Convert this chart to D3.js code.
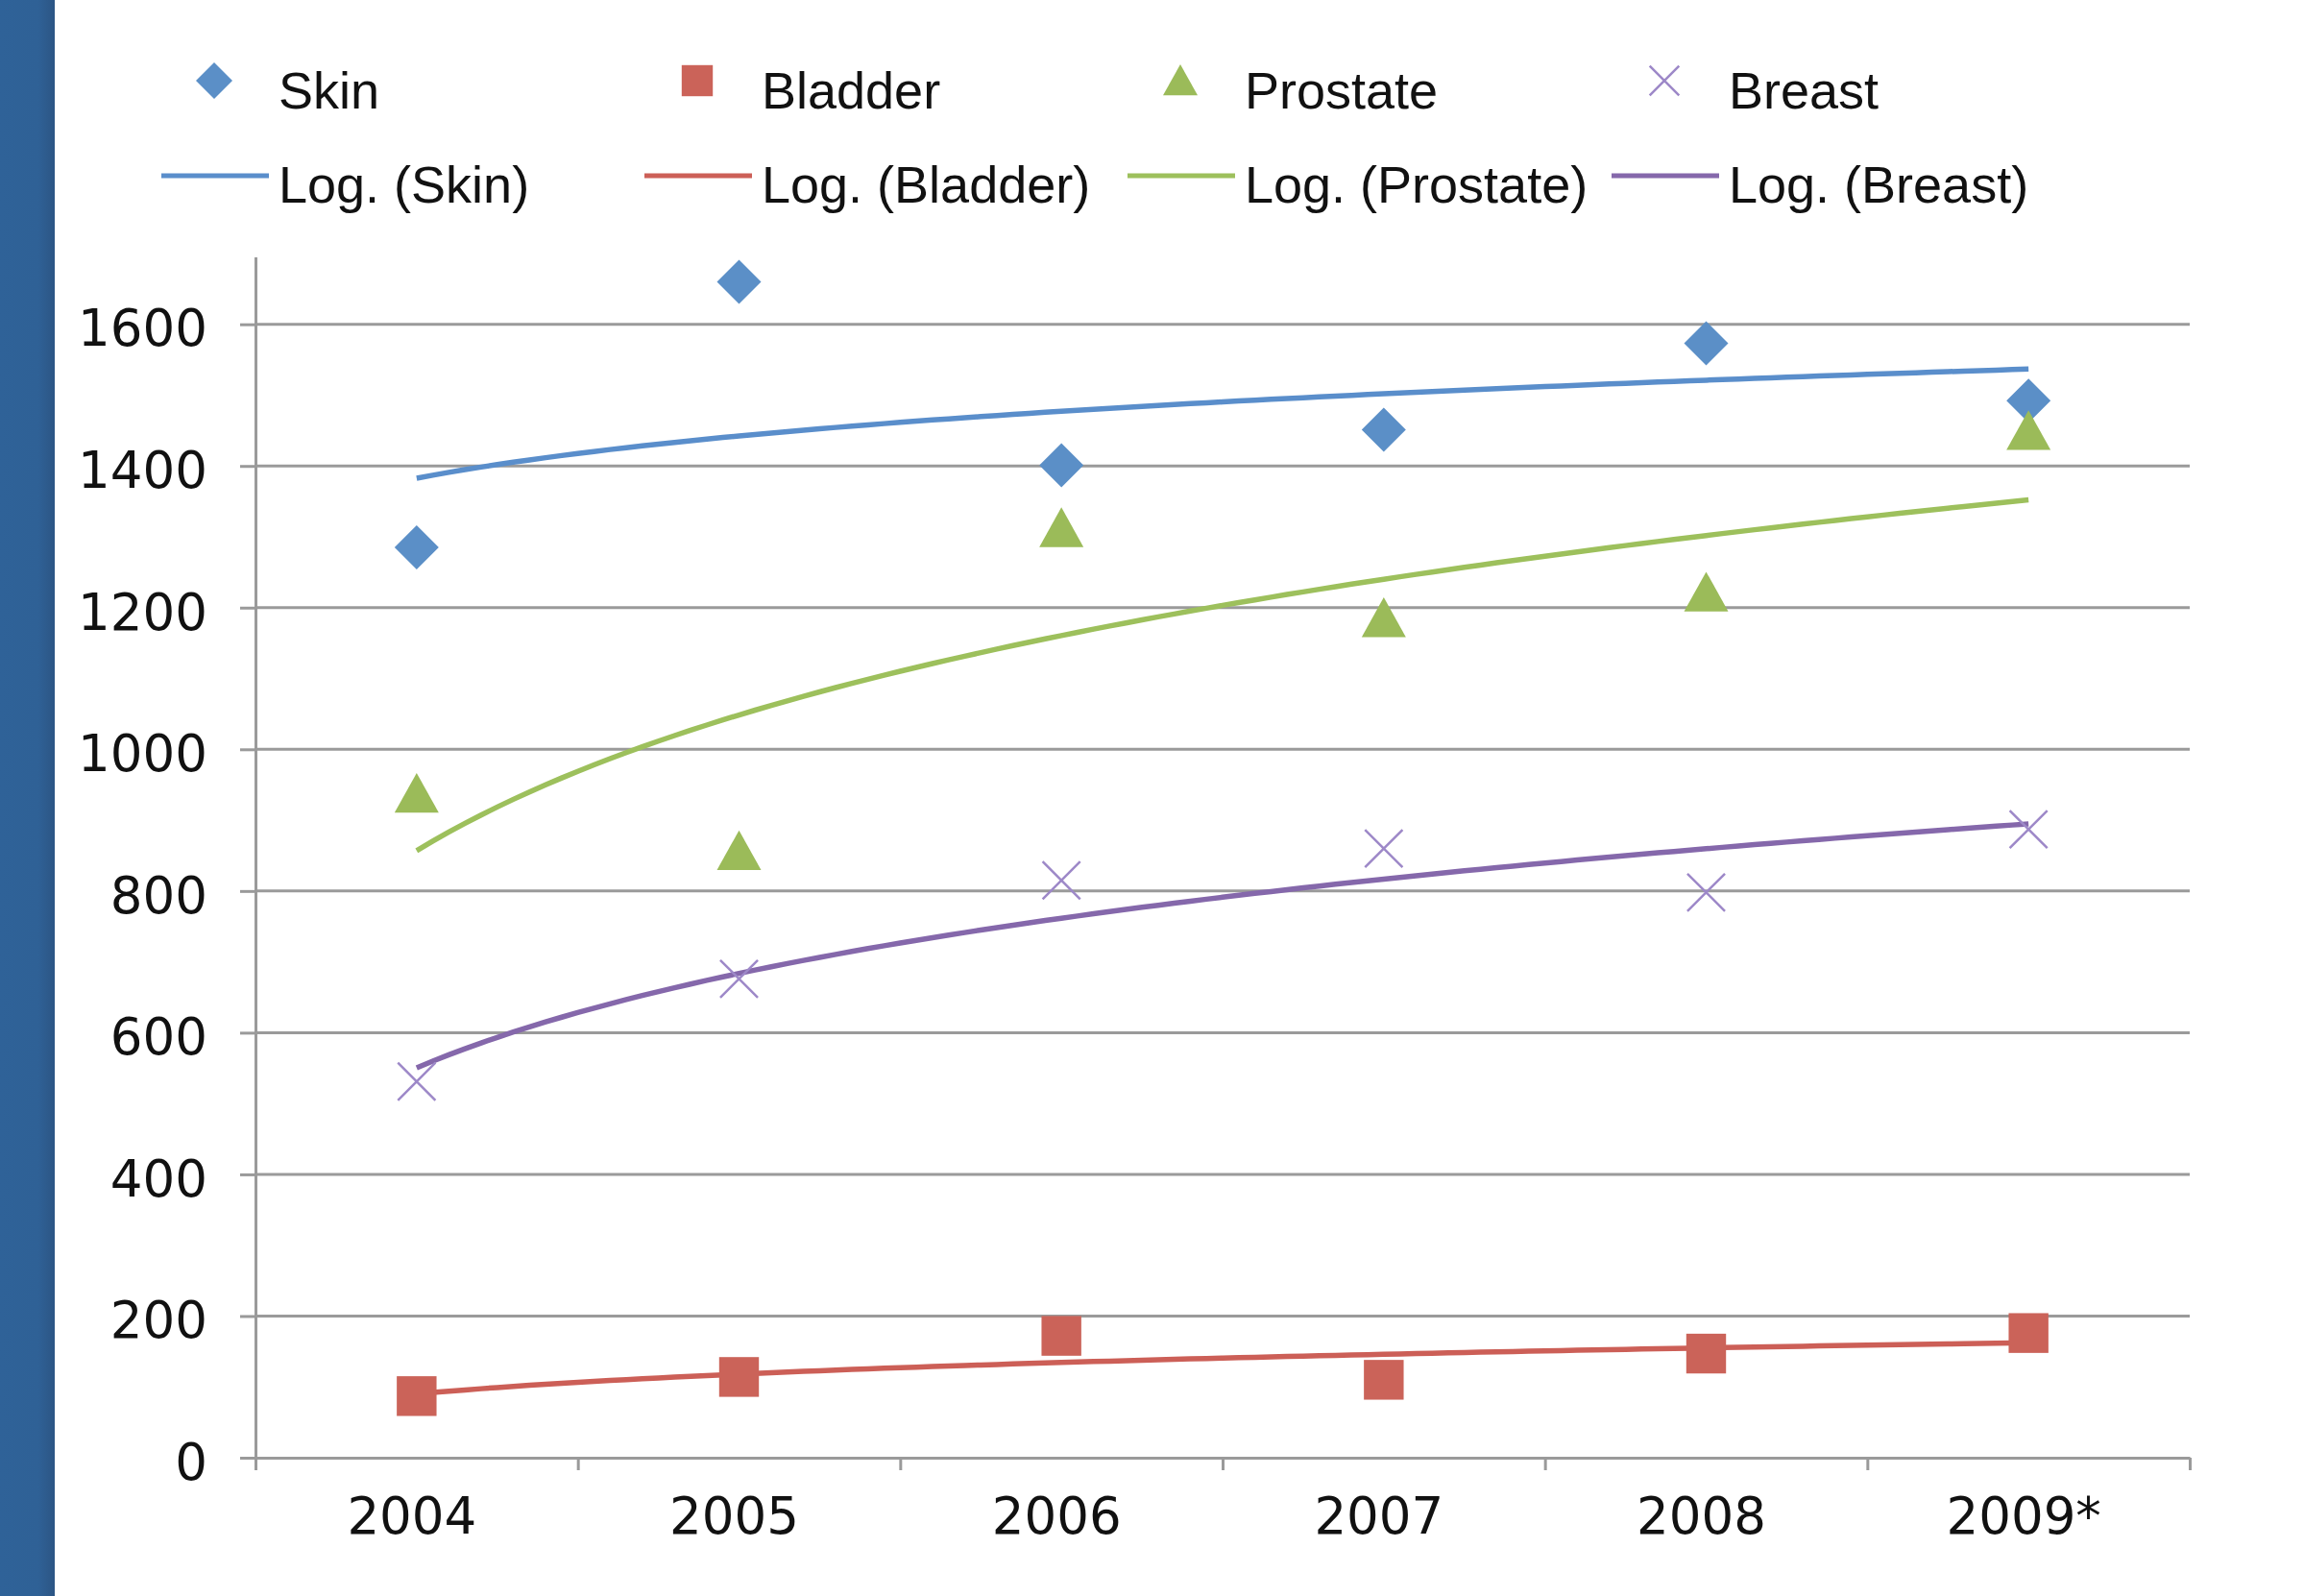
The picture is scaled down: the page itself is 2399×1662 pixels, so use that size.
<!DOCTYPE html>
<html><head><meta charset="utf-8">
<script src="https://cdn.jsdelivr.net/npm/d3@7"></script>
<style>html,body{margin:0;padding:0;background:#fff;}svg{display:block;}</style>
</head><body>
<svg id="c" width="2399" height="1662"></svg>
<script>
const categories = ["2004","2005","2006","2007","2008","2009*"];
const skin     = [1285, 1660, 1401, 1451, 1573, 1492];
const bladder  = [87, 114, 172, 110, 147, 176];
const prostate = [937, 856, 1312, 1185, 1221, 1449];
const breast   = [531, 676, 815, 860, 798, 887];
const yTicks   = [0, 200, 400, 600, 800, 1000, 1200, 1400, 1600];
const yMax = 1695;

const series = [
  {name:"Skin", values:skin, marker:"diamond", mcol:"#5b8fc7", lcol:"#5a8ecb"},
  {name:"Bladder", values:bladder, marker:"square", mcol:"#cb6359", lcol:"#cc5f57"},
  {name:"Prostate", values:prostate, marker:"triangle", mcol:"#9bbb59", lcol:"#9dc05c"},
  {name:"Breast", values:breast, marker:"x", mcol:"#9d88c8", lcol:"#8568ab"}
];

const svg = d3.select("#c");
const defs = svg.append("defs");
const g1 = defs.append("linearGradient").attr("id","band").attr("x1","0").attr("x2","1");
g1.append("stop").attr("offset","0").attr("stop-color","#2f6298");
g1.append("stop").attr("offset","0.7").attr("stop-color","#2f6196");
g1.append("stop").attr("offset","1").attr("stop-color","#2c5584");
svg.append("rect").attr("x",0).attr("y",0).attr("width",57).attr("height",1662).attr("fill","url(#band)");

const L = 266, R = 2280;
const y = d3.scaleLinear().domain([0, yMax]).range([1518, 1518 - yMax*0.7377]);
const xi = d3.scaleLinear().domain([0.5, 6.5]).range([L, R]);
const xb = d3.scaleBand().domain(categories).range([L, R]);

const gridCol = "#9a9a9a";
const textCol = "#111";
svg.append("g").selectAll("line").data(yTicks.filter(d=>d>0)).join("line")
  .attr("x1", L).attr("x2", R).attr("y1", d=>y(d)).attr("y2", d=>y(d))
  .attr("stroke", gridCol).attr("stroke-width", 3);

const ya = svg.append("g").attr("transform",`translate(${L},0)`)
  .call(d3.axisLeft(y).tickValues(yTicks).tickSizeInner(16).tickSizeOuter(0).tickPadding(34).tickFormat(d3.format("d")));
ya.select(".domain").attr("stroke", gridCol).attr("stroke-width", 3);
ya.selectAll(".tick line").attr("stroke", gridCol).attr("stroke-width", 3);
ya.selectAll(".tick text").attr("font-family","DejaVu Sans").attr("font-size",53).attr("fill",textCol).attr("dy","0.42em");

const xa = svg.append("g").attr("transform",`translate(0,${y(0)})`)
  .call(d3.axisBottom(xi).tickValues(d3.range(0.5, 6.6, 1)).tickSizeInner(13).tickSizeOuter(0).tickFormat(""));
xa.select(".domain").attr("stroke", gridCol).attr("stroke-width", 3);
xa.selectAll(".tick line").attr("stroke", gridCol).attr("stroke-width", 3);
const xl = svg.append("g").attr("transform",`translate(-5,${y(0)})`)
  .call(d3.axisBottom(xb).tickSize(0).tickPadding(41));
xl.select(".domain").remove();
xl.selectAll(".tick text").attr("font-family","DejaVu Sans").attr("font-size",53).attr("fill",textCol).attr("dy","0.71em");

function logFit(vals){
  const xs = vals.map((v,i)=>Math.log(i+1));
  const mx = d3.mean(xs), my = d3.mean(vals);
  let sxy=0, sxx=0;
  xs.forEach((x,i)=>{sxy+=(x-mx)*(vals[i]-my); sxx+=(x-mx)*(x-mx);});
  const a = sxy/sxx, b = my - a*mx;
  return t => a*Math.log(t)+b;
}
const line = d3.line().x(d=>xi(d[0])).y(d=>y(d[1]));
series.forEach(s=>{
  const f = logFit(s.values);
  const pts = d3.range(1, 6.0001, 0.05).map(t=>[t, f(t)]);
  svg.append("path").attr("d", line(pts)).attr("fill","none").attr("stroke", s.lcol).attr("stroke-width",5.5);
});

function drawMarker(g, type, cx, cy, size, col){
  const h = size/2;
  if(type==="diamond"){
    g.append("path").attr("d",`M${cx},${cy-h}L${cx+h},${cy}L${cx},${cy+h}L${cx-h},${cy}Z`).attr("fill",col);
  } else if(type==="square"){
    g.append("rect").attr("x",cx-h*0.9).attr("y",cy-h*0.9).attr("width",size*0.9).attr("height",size*0.9).attr("fill",col);
  } else if(type==="triangle"){
    g.append("path").attr("d",`M${cx},${cy-h*0.95}L${cx+h},${cy+h*0.85}L${cx-h},${cy+h*0.85}Z`).attr("fill",col);
  } else {
    const k = h*0.85;
    g.append("path").attr("d",`M${cx-k},${cy-k}L${cx+k},${cy+k}M${cx+k},${cy-k}L${cx-k},${cy+k}`)
      .attr("stroke",col).attr("stroke-width",2.5).attr("fill","none");
  }
}
const mg = svg.append("g");
series.forEach(s=>{
  s.values.forEach((v,i)=>drawMarker(mg, s.marker, xb(categories[i])+xb.bandwidth()/2, y(v), 46, s.mcol));
});

const legX = [290, 793, 1296, 1800];
const lg = svg.append("g").attr("font-family","Liberation Sans").attr("font-size",54).attr("fill",textCol);
series.forEach((s,i)=>{
  const tx = legX[i];
  drawMarker(lg, s.marker, tx-67, 84, s.marker==="diamond"?38:36, s.mcol);
  lg.append("text").attr("x",tx).attr("y",113).text(s.name);
  lg.append("line").attr("x1",tx-122).attr("x2",tx-10).attr("y1",183).attr("y2",183).attr("stroke",s.lcol).attr("stroke-width",5);
  lg.append("text").attr("x",tx).attr("y",211).text(`Log. (${s.name})`);
});
</script>
</body></html>
